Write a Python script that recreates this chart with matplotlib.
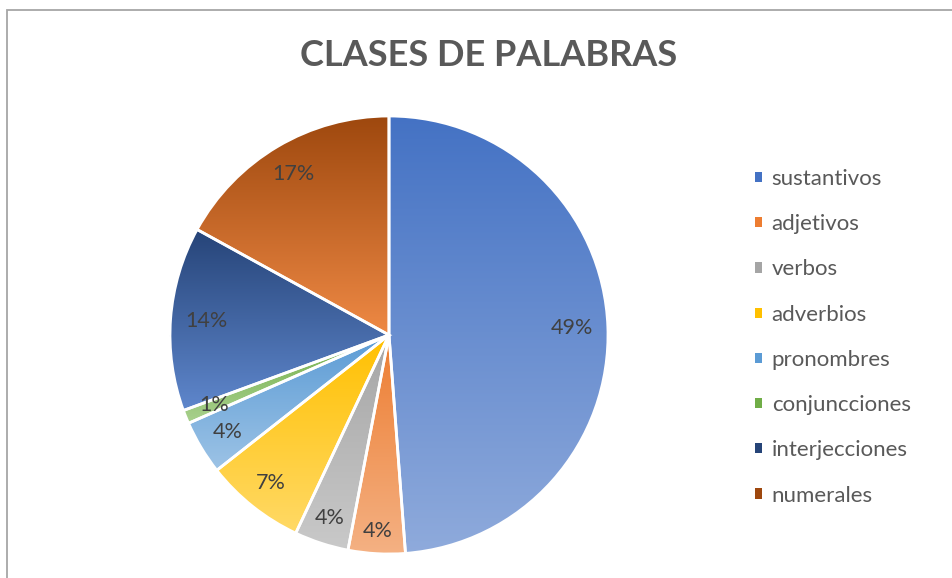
import colorsys
import numpy as np
import matplotlib
matplotlib.use("Agg")
import matplotlib.pyplot as plt
from matplotlib.colors import to_rgb
from matplotlib.patches import Wedge, Patch, Rectangle

# ---- data ----
categories = ["sustantivos", "adjetivos", "verbos", "adverbios",
              "pronombres", "conjuncciones", "interjecciones", "numerales"]
values = [48.8, 4.2, 4.0, 7.4, 4.0, 1.0, 13.6, 17.0]
colors = ["#4472C4", "#ED7D31", "#A5A5A5", "#FFC000",
          "#5B9BD5", "#70AD47", "#264478", "#9E480E"]
title = "CLASES DE PALABRAS"

FONT = ["Lato", "DejaVu Sans"]
plt.rcParams["font.family"] = FONT


def lighten(c, t=0.4):
    r, g, b = to_rgb(c)
    h, l, s = colorsys.rgb_to_hls(r, g, b)
    l = l + (1 - l) * t
    return colorsys.hls_to_rgb(h, l, s)


W, H = 953, 578
fig = plt.figure(figsize=(W / 100, H / 100), dpi=100)
fig.patch.set_facecolor("white")

# chart border (top and left visible)
fig.add_artist(Rectangle((7.5 / W, -0.1), 1.2, 1.1 - 9.5 / H,
                         transform=fig.transFigure, facecolor="none",
                         edgecolor="#A6A6A6", linewidth=1.3))

cx, cy, r = 389, 578 - 335, 219
ax = fig.add_axes([(cx - r) / W, (cy - r) / H, 2 * r / W, 2 * r / H])
ax.axis("off")

wedges, texts, autotexts = ax.pie(
    values, colors=colors, startangle=90, counterclock=False,
    radius=1, autopct="%1.0f%%", pctdistance=0.87,
    wedgeprops=dict(edgecolor="none", linewidth=0),
    textprops=dict(fontsize=15.5, color="#404040"))

for w, c in zip(wedges, colors):
    th = np.radians(np.linspace(w.theta1, w.theta2, 200))
    xs = np.concatenate([[w.center[0]], w.center[0] + w.r * np.cos(th)])
    ys = np.concatenate([[w.center[1]], w.center[1] + w.r * np.sin(th)])
    top = np.array(to_rgb(c))
    bot = np.array(lighten(c, 0.4))
    n = 256
    f = np.linspace(0, 1, n)[:, None]
    grad = (top[None, :] * (1 - f) + bot[None, :] * f)[:, None, :]
    im = ax.imshow(grad, extent=[xs.min(), xs.max(), ys.min(), ys.max()],
                   origin="upper", aspect="auto", zorder=1.5,
                   interpolation="bilinear")
    im.set_clip_path(w)
    ax.add_patch(Wedge(w.center, w.r, w.theta1, w.theta2, facecolor="none",
                       edgecolor="white", linewidth=2.0, zorder=3))

ax.set_xlim(-1.0, 1.0)
ax.set_ylim(-1.0, 1.0)
ax.set_aspect("equal")

fig.text(489 / W, 1 - 56 / H, title, ha="center", va="center",
         fontsize=26, fontweight="bold", color="#595959")

handles = [Patch(facecolor=c, edgecolor="none") for c in colors]
fig.legend(handles, categories, loc="upper left",
           bbox_to_anchor=(755 / W, 1 - 169 / H), frameon=False,
           fontsize=16, labelcolor="#595959", handlelength=0.33,
           handleheight=0.33, handletextpad=0.42, labelspacing=1.135,
           borderpad=0, borderaxespad=0)

# place data labels Excel-like: text box inset a fixed margin from the rim
fig.canvas.draw()
ren = fig.canvas.get_renderer()
margin = 14.0 / r
for w, t in zip(wedges, autotexts):
    t.set_zorder(5)
    t.set_ha("center")
    t.set_va("center")
    bb = t.get_window_extent(ren)
    hw = bb.width / 2 / r
    hh = bb.height / 2 / r * 0.8
    a = np.radians((w.theta1 + w.theta2) / 2)
    d = w.r - margin - (abs(np.cos(a)) * hw + abs(np.sin(a)) * hh)
    t.set_position((d * np.cos(a), d * np.sin(a)))

fig.savefig("out.png", dpi=100)
